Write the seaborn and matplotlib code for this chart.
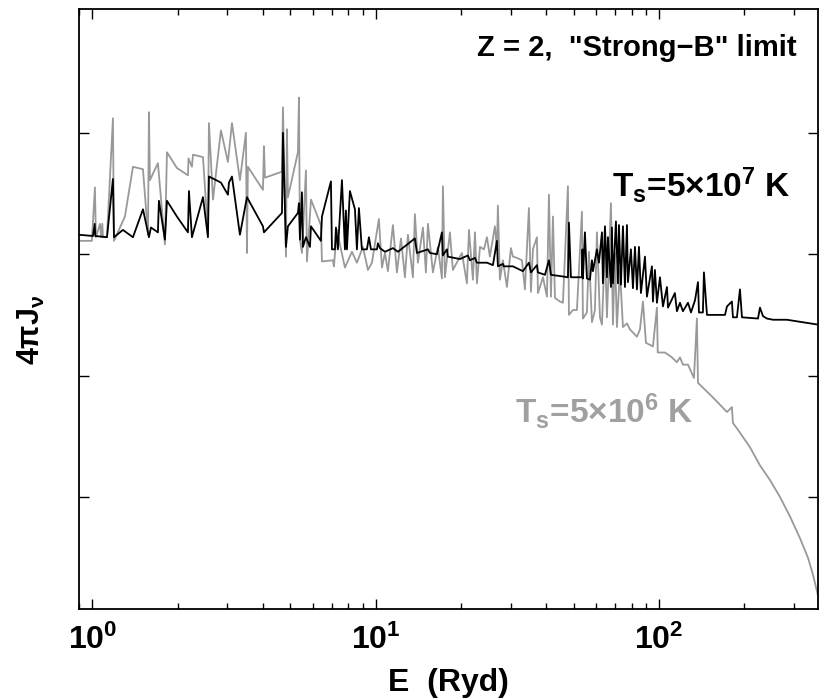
import matplotlib
matplotlib.use("Agg")
import matplotlib.pyplot as plt
import matplotlib.ticker as mticker
import pandas as pd
import seaborn as sns

# photon energy (Ryd) and log10 of 4*pi*J_nu (arbitrary zero point)
# T_s = 5e7 K spectrum (black)
E_hot = [0.898, 1.006, 1.020, 1.025, 1.127, 1.183, 1.193, 1.283, 1.392, 1.510,
         1.585, 1.611, 1.705, 1.719, 1.805, 1.835, 1.990, 2.176, 2.194, 2.248,
         2.459, 2.560, 2.581, 2.845, 3.012, 3.037, 3.112, 3.320, 3.515, 4.003,
         4.036, 4.672, 4.710, 4.826, 4.904, 5.319, 5.363, 5.407, 5.495, 5.540,
         5.677, 5.865, 5.913, 6.412, 6.466, 6.955, 7.013, 7.185, 7.244, 7.362,
         7.606, 7.794, 7.857, 7.920, 8.115, 8.453, 8.590, 8.732, 8.945, 9.317,
         9.472, 9.627, 10.11, 10.19, 10.36, 10.79, 11.51, 11.99, 13.76, 13.99,
         15.30, 15.55, 16.46, 17.14, 17.28, 17.85, 17.99, 19.84, 21.17, 21.52,
         22.42, 22.78, 24.71, 25.94, 26.80, 27.01, 28.13, 28.36, 29.79, 30.52,
         33.10, 34.75, 35.33, 37.09, 37.40, 39.59, 40.90, 41.57, 44.72, 47.72,
         48.11, 48.90, 53.47, 53.70, 53.90, 54.79, 55.68, 57.06, 58.00, 58.47,
         60.40, 61.40, 62.92, 63.43, 64.47, 65.53, 66.06, 67.70, 68.23, 68.79,
         70.48, 71.64, 72.23, 73.41, 74.62, 75.85, 77.09, 77.72, 79.62, 80.94,
         82.27, 83.62, 84.99, 86.37, 89.23, 90.68, 94.44, 95.21, 96.76, 98.35,
         100.8, 103.3, 106.7, 107.6, 113.8, 115.7, 118.6, 121.5, 126.6, 129.7,
         134.0, 137.3, 138.4, 142.9, 144.1, 147.7, 171.0, 173.8, 180.9, 182.4,
         188.4, 193.1, 196.3, 223.6, 227.2, 232.8, 240.4, 252.5, 282.8, 363.9]
F_hot = [3.16, 3.15, 3.25, 3.15, 3.14, 3.62, 3.14, 3.20, 3.14, 3.37,
         3.14, 3.22, 3.18, 3.44, 3.12, 3.44, 3.31, 3.18, 3.52, 3.14,
         3.47, 3.14, 3.64, 3.59, 3.49, 3.59, 3.64, 3.16, 3.47, 3.23,
         3.18, 3.34, 4.00, 3.06, 3.23, 3.34, 3.42, 3.12, 3.51, 3.06,
         3.14, 3.06, 3.23, 3.11, 3.31, 3.60, 3.04, 3.04, 3.22, 3.04,
         3.61, 3.04, 3.36, 3.04, 3.52, 3.37, 3.04, 3.38, 3.04, 3.04,
         3.14, 3.04, 3.04, 3.09, 3.05, 3.02, 3.05, 3.02, 3.13, 3.01,
         3.04, 3.01, 3.00, 3.18, 2.99, 3.04, 2.98, 2.96, 2.99, 2.95,
         2.97, 2.93, 2.93, 2.91, 3.11, 2.90, 2.92, 2.90, 2.90, 2.90,
         2.86, 2.93, 2.85, 2.91, 2.85, 2.83, 2.95, 2.83, 2.82, 2.81,
         3.26, 2.81, 2.81, 3.04, 2.80, 3.18, 2.80, 2.79, 2.95, 2.86,
         3.04, 2.93, 3.18, 2.76, 3.23, 2.81, 3.14, 2.73, 3.22, 2.76,
         3.27, 2.76, 3.24, 2.75, 3.23, 2.73, 3.24, 2.77, 3.04, 2.72,
         3.06, 2.71, 3.06, 2.68, 2.98, 2.65, 2.90, 2.61, 2.87, 2.60,
         2.81, 2.57, 2.73, 2.56, 2.68, 2.53, 2.60, 2.53, 2.60, 2.52,
         2.62, 2.77, 2.52, 2.52, 2.85, 2.50, 2.50, 2.57, 2.61, 2.48,
         2.48, 2.71, 2.48, 2.47, 2.56, 2.49, 2.47, 2.46, 2.46, 2.42]

# T_s = 5e6 K spectrum (grey)
E_cool = [0.898, 0.997, 1.022, 1.030, 1.065, 1.075, 1.085, 1.091, 1.127, 1.183,
          1.193, 1.304, 1.392, 1.510, 1.573, 1.585, 1.598, 1.705, 1.805, 1.835,
          1.990, 2.176, 2.186, 2.248, 2.267, 2.459, 2.560, 2.581, 2.667, 2.845,
          3.012, 3.112, 3.320, 3.486, 3.515, 3.543, 4.003, 4.036, 4.069, 4.672,
          4.710, 4.826, 4.864, 4.904, 5.319, 5.363, 5.407, 5.495, 5.677, 5.724,
          5.913, 6.412, 6.466, 7.068, 7.126, 7.303, 7.482, 7.794, 8.249, 8.590,
          9.019, 9.396, 9.705, 10.27, 10.53, 10.79, 11.05, 11.51, 11.89, 12.29,
          12.69, 13.00, 13.54, 13.76, 14.10, 14.69, 15.05, 15.30, 15.93, 16.59,
          17.14, 17.28, 17.56, 18.29, 18.74, 20.16, 21.00, 21.35, 22.05, 22.42,
          22.78, 23.35, 24.11, 24.71, 25.31, 26.36, 26.80, 27.01, 27.46, 28.13,
          29.07, 30.03, 30.52, 31.53, 32.84, 33.65, 34.75, 35.33, 35.90, 37.09,
          37.40, 38.95, 40.24, 40.90, 41.57, 42.25, 42.95, 44.72, 45.82, 47.72,
          48.11, 49.70, 51.34, 53.47, 53.90, 55.68, 56.60, 58.00, 59.43, 60.40,
          61.90, 62.92, 64.47, 65.53, 67.70, 68.79, 69.92, 71.06, 72.81, 74.62,
          77.09, 78.99, 83.62, 85.68, 87.80, 89.95, 95.21, 98.35, 99.00, 105.0,
          111.1, 115.7, 118.6, 121.5, 126.6, 132.9, 136.1, 137.3, 155.0, 173.8,
          180.9, 182.4, 193.1, 209.4, 227.2, 246.4, 267.3, 289.9, 314.5, 335.6,
          349.5, 363.9]
F_cool = [3.11, 3.11, 3.55, 3.14, 3.25, 3.14, 3.25, 3.14, 3.14, 4.12,
          3.11, 3.31, 3.72, 3.70, 3.16, 4.17, 3.61, 3.75, 3.08, 3.84,
          3.71, 3.65, 3.79, 3.72, 3.82, 3.80, 3.17, 4.08, 3.45, 4.02,
          3.76, 4.08, 3.61, 4.00, 3.01, 3.72, 3.53, 3.89, 3.63, 3.68,
          4.21, 2.98, 4.03, 3.47, 3.84, 4.29, 3.12, 3.01, 3.69, 2.94,
          3.45, 3.24, 2.94, 2.95, 2.90, 3.20, 3.08, 2.89, 3.02, 2.93,
          3.06, 2.87, 2.93, 3.29, 2.89, 3.01, 2.86, 3.24, 2.85, 3.13,
          2.81, 3.16, 2.81, 3.33, 2.93, 3.22, 2.85, 3.25, 2.85, 3.06,
          2.80, 3.56, 2.81, 3.18, 2.87, 3.01, 2.76, 3.20, 2.79, 3.18,
          2.76, 3.06, 3.04, 3.14, 2.98, 3.23, 3.04, 3.40, 2.79, 2.95,
          2.73, 3.05, 2.98, 2.97, 2.95, 2.71, 3.38, 2.69, 3.04, 3.14,
          2.68, 2.81, 2.65, 3.49, 2.65, 3.31, 2.64, 2.61, 2.60, 3.56,
          2.50, 2.54, 2.54, 3.35, 2.47, 2.52, 3.02, 2.44, 2.54, 3.18,
          2.48, 2.42, 3.06, 2.48, 3.42, 2.42, 3.01, 2.40, 2.87, 2.40,
          2.43, 2.38, 2.32, 2.38, 2.61, 2.27, 2.24, 2.56, 2.19, 2.19,
          2.15, 2.11, 2.15, 2.09, 2.09, 1.98, 2.47, 1.94, 1.82, 1.70,
          1.74, 1.61, 1.53, 1.41, 1.26, 1.14, 1.00, 0.84, 0.66, 0.50,
          0.36, 0.19]

xtick_vals = [1, 10, 100]
xtick_labels = ["10$^0$", "10$^1$", "10$^2$"]
ytick_vals = [1, 2, 3, 4]

sns.set_style("ticks")
plt.rcParams["font.family"] = ["Liberation Sans", "DejaVu Sans"]
plt.rcParams["font.weight"] = "bold"
plt.rcParams["text.color"] = "black"
plt.rcParams["axes.labelcolor"] = "black"
plt.rcParams["xtick.color"] = "black"
plt.rcParams["ytick.color"] = "black"
plt.rcParams["mathtext.fontset"] = "custom"
plt.rcParams["mathtext.rm"] = "Liberation Sans:bold"
plt.rcParams["mathtext.it"] = "Liberation Sans:bold"
plt.rcParams["mathtext.bf"] = "Liberation Sans:bold"

df_hot = pd.DataFrame({"E": E_hot, "F": F_hot})
df_cool = pd.DataFrame({"E": E_cool, "F": F_cool})

fig = plt.figure(figsize=(8.3, 6.98), dpi=100)
ax = fig.add_axes([0.0952, 0.1275, 0.8903, 0.8596])
ax.set_xscale("log")

grey = "#999999"
sns.lineplot(data=df_cool, x="E", y="F", color=grey, lw=1.3,
             estimator=None, sort=False, ax=ax)
sns.lineplot(data=df_hot, x="E", y="F", color="black", lw=1.3,
             estimator=None, sort=False, ax=ax)

ax.set_xlim(0.898, 364)
ax.set_ylim(0.077, 5.02)

# axes cosmetics
for s in ax.spines.values():
    s.set_linewidth(1.3)
    s.set_color("black")
ax.set_xticks(xtick_vals)
ax.set_xticklabels(xtick_labels, fontsize=23, fontweight="bold")
ax.xaxis.set_minor_locator(mticker.LogLocator(base=10, subs=range(2, 10)))
ax.xaxis.set_minor_formatter(mticker.NullFormatter())
ax.set_yticks(ytick_vals)
ax.set_yticklabels([])
ax.yaxis.set_minor_locator(mticker.NullLocator())
ax.tick_params(which="both", direction="in", top=True, right=True, width=1.0, color="black")
ax.tick_params(which="major", length=7, pad=11)
ax.tick_params(which="minor", length=4)

ax.set_xlabel("E  (Ryd)", fontsize=23, fontweight="bold")
ax.xaxis.set_label_coords(0.5, -0.098)
ax.set_ylabel("4πJ$_ν$", fontsize=22, fontweight="bold")
ax.yaxis.set_label_coords(-0.043, 0.465)

ax.text(0.971, 0.935, 'Z = 2,  "Strong\u2212B" limit', transform=ax.transAxes,
        ha="right", va="center", fontsize=21, fontweight="bold")
ax.text(0.721, 0.687, "T$_s$=5×10$^7$ K", transform=ax.transAxes,
        ha="left", va="baseline", fontsize=24, fontweight="bold", color="black")
ax.text(0.590, 0.31, "T$_s$=5×10$^6$ K", transform=ax.transAxes,
        ha="left", va="baseline", fontsize=24, fontweight="bold", color="#a0a0a0")

fig.savefig("out.png", dpi=100)
